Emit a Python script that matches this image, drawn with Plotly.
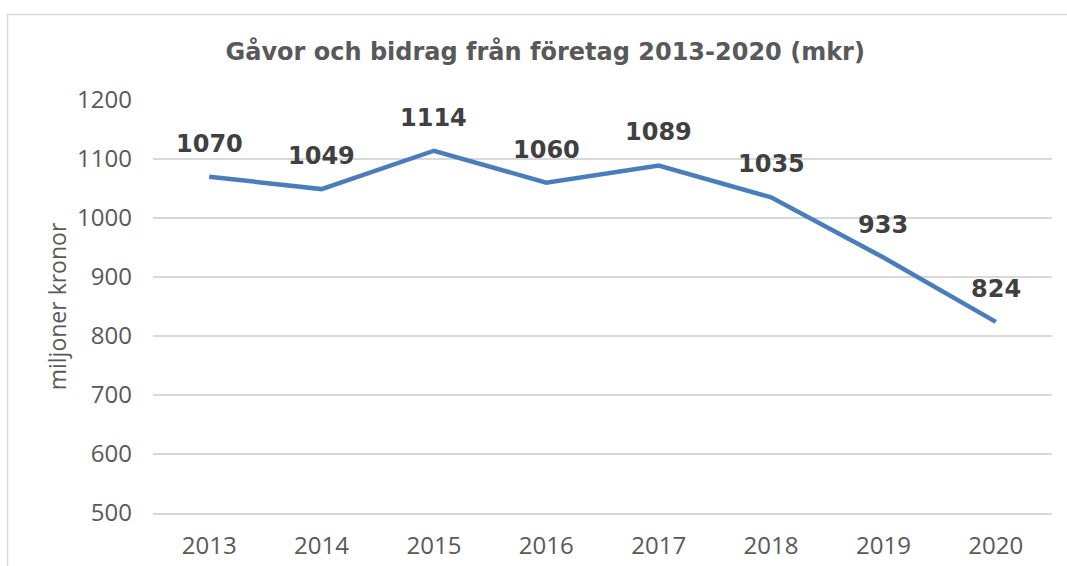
import plotly.graph_objects as go

years = ["2013", "2014", "2015", "2016", "2017", "2018", "2019", "2020"]
values = [1070, 1049, 1114, 1060, 1089, 1035, 933, 824]
y_ticks = [500, 600, 700, 800, 900, 1000, 1100, 1200]

title_text = "Gåvor och bidrag från företag 2013-2020 (mkr)"
y_title = "miljoner kronor"

FONT = "Open Sans, Noto Sans, DejaVu Sans, sans-serif"
BOLD_FONT = "DejaVu Sans, Verdana, sans-serif"

fig = go.Figure()
fig.add_trace(go.Scatter(
    x=years, y=values, mode="lines",
    line=dict(color="#4A7EBB", width=4.5),
    hoverinfo="skip", showlegend=False,
))

annotations = []
for i, v in enumerate(values):
    annotations.append(dict(
        x=i, y=v, xref="x", yref="y", text=str(v), showarrow=False,
        yanchor="middle", xanchor="center", yshift=33,
        font=dict(family=BOLD_FONT, size=24, color="#404040", weight="bold"),
    ))
annotations.append(dict(
    x=-0.107, y=0.5, xref="paper", yref="paper", text=y_title,
    showarrow=False, textangle=-90, xanchor="center", yanchor="middle",
    font=dict(family=FONT, size=23, color="#595959"),
))

fig.update_layout(
    width=1067, height=566, autosize=False,
    margin=dict(l=153, r=15, t=100, b=53),
    paper_bgcolor="white", plot_bgcolor="white",
    title=dict(text=title_text, x=0.511, y=0.908, xanchor="center", yanchor="middle",
               font=dict(family=BOLD_FONT, size=24, color="#595959", weight="bold")),
    annotations=annotations,
    shapes=[dict(type="rect", xref="paper", yref="paper",
                 x0=-0.1618, x1=1.2, y0=-0.4, y1=1.207,
                 line=dict(color="#D9D9D9", width=1.5), fillcolor="rgba(0,0,0,0)", layer="below")],
)
fig.update_xaxes(
    type="category", range=[-0.5, 7.5], showgrid=False, zeroline=False,
    showline=True, linecolor="#D9D9D9", linewidth=1.5,
    tickfont=dict(family=FONT, size=24, color="#595959"), ticks="", ticklabelstandoff=10,
    automargin=False,
)
fig.update_yaxes(
    range=[500, 1200], tickvals=y_ticks, showgrid=True, gridcolor="#D9D9D9", gridwidth=1.5,
    zeroline=False, showline=False, automargin=False,
    tickfont=dict(family=FONT, size=24, color="#595959"), ticks="", ticklabelstandoff=20,
)

fig.write_html("out.html", config={"displayModeBar": False},
               post_script="document.body.style.margin='0';document.body.style.padding='0';")
